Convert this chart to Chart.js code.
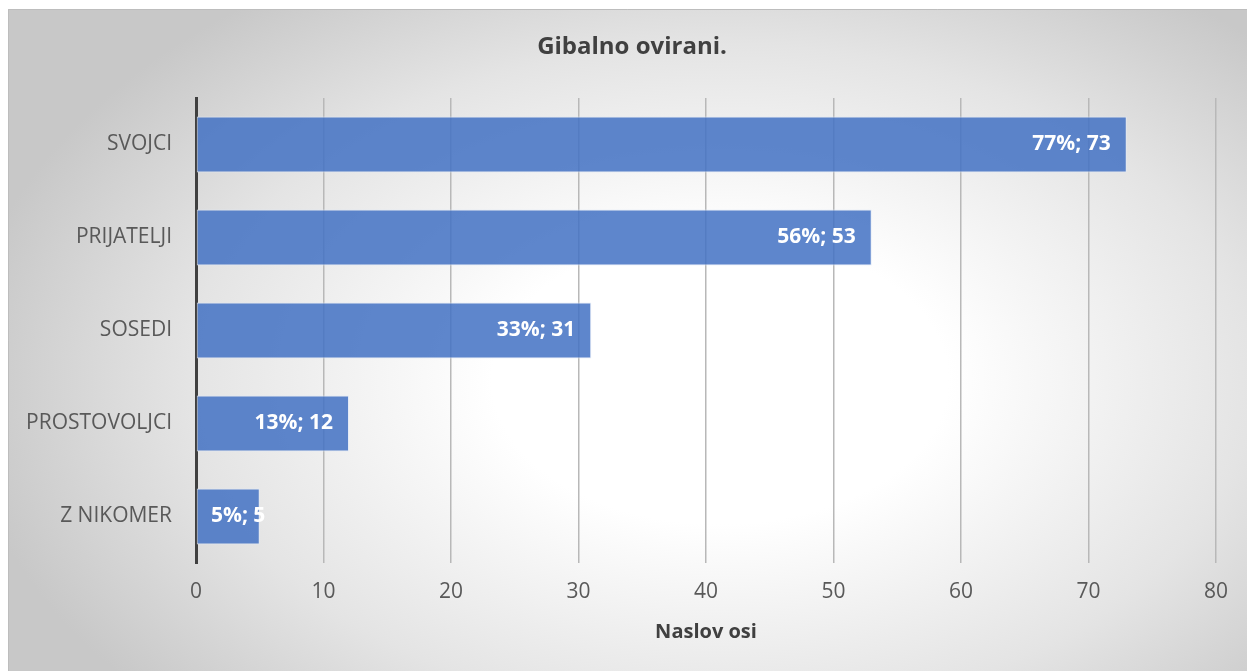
<!DOCTYPE html>
<html>
<head>
<meta charset="utf-8">
<script src="https://cdn.jsdelivr.net/npm/chart.js@4.4.1/dist/chart.umd.min.js"></script>
<style>
  html, body { margin: 0; padding: 0; background: #ffffff; }
  #wrap { position: relative; width: 1247px; height: 671px; }
</style>
</head>
<body>
<div id="wrap"><canvas id="c" width="1247" height="671"></canvas></div>
<script>
const chartTitle = 'Gibalno ovirani.';
const axisTitle = 'Naslov osi';
const categories = ['SVOJCI', 'PRIJATELJI', 'SOSEDI', 'PROSTOVOLJCI', 'Z NIKOMER'];
const counts = [73, 53, 31, 12, 5];
const percents = [77, 56, 33, 13, 5];
const xTicks = [0, 10, 20, 30, 40, 50, 60, 70, 80];

const FONT = '"Open Sans", "DejaVu Sans", sans-serif';

const bgPlugin = {
  id: 'bg',
  beforeDraw(chart) {
    const ctx = chart.ctx;
    const x0 = 8, y0 = 9, w = chart.width - x0, h = chart.height - y0;
    ctx.save();
    ctx.fillStyle = '#ffffff';
    ctx.fillRect(0, 0, chart.width, chart.height);
    const cx = 720, cy = 380, rx = 760, ry = 480;
    ctx.beginPath();
    ctx.rect(x0, y0, w, h);
    ctx.clip();
    ctx.translate(cx, cy);
    ctx.scale(rx / ry, 1);
    const g = ctx.createRadialGradient(0, 0, 0, 0, 0, ry);
    g.addColorStop(0, '#ffffff');
    g.addColorStop(0.3, '#ffffff');
    g.addColorStop(0.7, '#e4e4e4');
    g.addColorStop(1, '#c8c8c8');
    ctx.fillStyle = g;
    ctx.fillRect(-cx * ry / rx - 10, -cy - 10, chart.width * ry / rx + 40, chart.height + 40);
    ctx.restore();
    ctx.save();
    ctx.strokeStyle = '#bdbdbd';
    ctx.lineWidth = 1;
    ctx.beginPath();
    ctx.moveTo(x0 + 0.5, chart.height);
    ctx.lineTo(x0 + 0.5, y0 + 0.5);
    ctx.lineTo(chart.width, y0 + 0.5);
    ctx.stroke();
    // title
    ctx.fillStyle = '#404040';
    ctx.font = 'bold 24px ' + FONT;
    ctx.textAlign = 'center';
    ctx.textBaseline = 'middle';
    ctx.fillText(chartTitle, 632, 47);
    ctx.restore();
  }
};

const labelPlugin = {
  id: 'barLabels',
  afterDatasetsDraw(chart) {
    const ctx = chart.ctx;
    const meta = chart.getDatasetMeta(0);
    const xs = chart.scales.x;
    ctx.save();
    ctx.font = 'bold 21px ' + FONT;
    ctx.fillStyle = '#ffffff';
    ctx.textBaseline = 'middle';
    ctx.textAlign = 'left';
    meta.data.forEach((bar, i) => {
      const txt = percents[i] + '%; ' + counts[i];
      const tw = ctx.measureText(txt).width;
      const start = xs.getPixelForValue(0);
      let x = bar.x - 16 - tw;
      if (x < start + 15) x = start + 15;
      ctx.fillText(txt, x, bar.y);
    });
    ctx.restore();
  }
};

new Chart(document.getElementById('c'), {
  type: 'bar',
  data: {
    labels: categories,
    datasets: [{
      data: counts,
      backgroundColor: 'rgba(68,114,196,0.86)',
      borderColor: 'rgba(225,233,246,0.9)',
      borderWidth: 1,
      borderSkipped: false,
      categoryPercentage: 1.0,
      barPercentage: 0.6
    }]
  },
  options: {
    indexAxis: 'y',
    responsive: false,
    animation: false,
    events: [],
    layout: { padding: { left: 0, right: 31, top: 98, bottom: 0 } },
    plugins: {
      legend: { display: false },
      title: { display: false },
      tooltip: { enabled: false }
    },
    scales: {
      x: {
        min: 0, max: 80,
        afterBuildTicks(scale) { scale.ticks = xTicks.map(v => ({ value: v })); },
        afterFit(scale) { scale.height = 108; },
        grid: { display: true, color: '#b8b8b8', lineWidth: 1.5, drawTicks: false },
        border: { display: false },
        ticks: { color: '#595959', font: { family: FONT, size: 21 }, padding: 16 },
        title: {
          display: true, text: axisTitle, color: '#404040',
          font: { family: FONT, size: 20, weight: 'bold' },
          padding: { top: 0, bottom: 27 }
        }
      },
      y: {
        afterFit(scale) { scale.width = 196; },
        grid: { display: false, drawTicks: false },
        border: { display: true, color: '#404040', width: 3 },
        ticks: { color: '#595959', font: { family: FONT, size: 21 }, padding: 24 }
      }
    }
  },
  plugins: [bgPlugin, labelPlugin]
});
</script>
</body>
</html>
